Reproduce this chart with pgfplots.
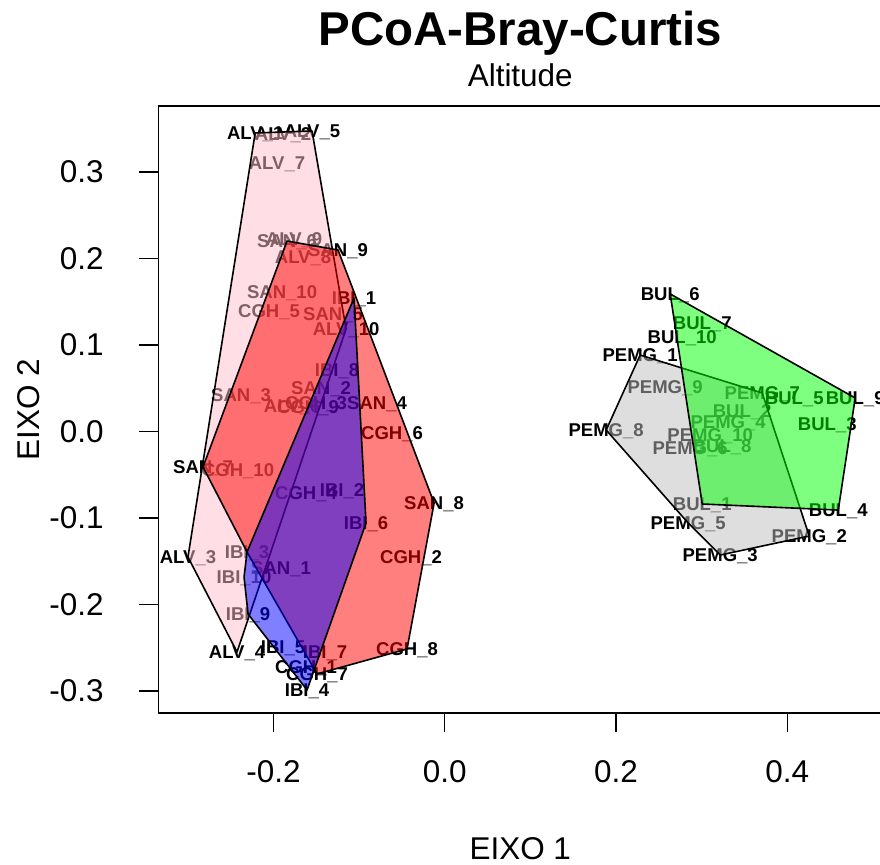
\documentclass[border=0pt]{standalone}
\usepackage{fontspec}
\setmainfont{Liberation Sans}
\usepackage{pgfplots}
\usepackage{pgfplotstable}
\pgfplotsset{compat=1.18}

\definecolor{hpink}{HTML}{FFC0CB}
\definecolor{hred}{HTML}{FF0000}
\definecolor{hblue}{HTML}{0000FF}
\definecolor{hgray}{HTML}{BEBEBE}
\definecolor{hgreen}{HTML}{00FF00}

% site scores (axis 1, axis 2)
\pgfplotstableread{
x y lab
-0.2215 0.3451 ALV\_1
-0.1889 0.3439 ALV\_2
-0.3000 -0.1451 ALV\_3
-0.2427 -0.2549 ALV\_4
-0.1551 0.3474 ALV\_5
-0.1784 0.0295 ALV\_6
-0.1960 0.3104 ALV\_7
-0.1656 0.2017 ALV\_8
-0.1760 0.2225 ALV\_9
-0.1153 0.1185 ALV\_10
-0.1913 -0.1578 SAN\_1
-0.1445 0.0503 SAN\_2
-0.2380 0.0422 SAN\_3
-0.0791 0.0329 SAN\_4
-0.1305 0.1358 SAN\_5
-0.1843 0.2202 SAN\_6
-0.2824 -0.0410 SAN\_7
-0.0125 -0.0827 SAN\_8
-0.1247 0.2098 SAN\_9
-0.1901 0.1613 SAN\_10
-0.1621 -0.2723 CGH\_1
-0.0394 -0.1451 CGH\_2
-0.1504 0.0329 CGH\_3
-0.1621 -0.0711 CGH\_4
-0.2053 0.1393 CGH\_5
-0.0616 -0.0017 CGH\_6
-0.1492 -0.2803 CGH\_7
-0.0441 -0.2514 CGH\_8
-0.1597 0.0283 CGH\_9
-0.2415 -0.0445 CGH\_10
-0.1060 0.1543 IBI\_1
-0.1200 -0.0676 IBI\_2
-0.2310 -0.1393 IBI\_3
-0.1609 -0.2988 IBI\_4
-0.1889 -0.2491 IBI\_5
-0.0920 -0.1058 IBI\_6
-0.1399 -0.2549 IBI\_7
-0.1258 0.0711 IBI\_8
-0.2298 -0.2110 IBI\_9
-0.2345 -0.1682 IBI\_10
0.3007 -0.0838 BUL\_1
0.3474 0.0237 BUL\_2
0.4467 0.0087 BUL\_3
0.4596 -0.0908 BUL\_4
0.4082 0.0387 BUL\_5
0.2633 0.1590 BUL\_6
0.3007 0.1254 BUL\_7
0.3240 -0.0168 BUL\_8
0.4794 0.0387 BUL\_9
0.2773 0.1092 BUL\_10
0.2282 0.0884 PEMG\_1
0.4257 -0.1208 PEMG\_2
0.3217 -0.1428 PEMG\_3
0.3310 0.0110 PEMG\_4
0.2843 -0.1058 PEMG\_5
0.2866 -0.0191 PEMG\_6
0.3708 0.0445 PEMG\_7
0.1885 0.0017 PEMG\_8
0.2574 0.0514 PEMG\_9
0.3100 -0.0040 PEMG\_10
}\sites

\begin{document}
\begin{tikzpicture}
\begin{axis}[
  name=ax,
  scale only axis,
  width=543pt, height=455.25pt,
  xmin=-0.3347, xmax=0.511,
  ymin=-0.3254, ymax=0.3763,
  clip=false,
  clip marker paths=true,
  axis line style={line width=1pt},
  xtick={-0.2,0,0.2,0.4},
  ytick={-0.3,-0.2,-0.1,0,0.1,0.2,0.3},
  xtick pos=lower, ytick pos=left,
  tick align=outside,
  major tick length=14.25pt,
  tick style={line width=0.9pt, black},
  ticklabel style={font=\fontsize{23.6}{28}\selectfont, inner sep=0pt},
  xticklabel style={anchor=base, yshift=-38.25pt},
  yticklabel style={anchor=east, xshift=-26.5pt},
  /pgf/number format/fixed,
  /pgf/number format/fixed zerofill,
  /pgf/number format/precision=1,
  /pgf/number format/assume math mode=true,
]
% labels first, the hulls are laid over them
\addplot[draw=none, mark=none, nodes near coords, point meta=explicit symbolic,
  nodes near coords align={anchor=base},
  every node near coord/.append style={font=\fontsize{13.9}{16}\selectfont\bfseries,
    inner sep=0pt, yshift=-5pt}]
  table[x=x, y=y, meta=lab] {\sites};

\addplot[draw=black, line width=1.2pt, line join=round, fill=hpink, fill opacity=0.5]
  coordinates {(-0.2215,0.3451) (-0.1551,0.3474) (-0.1153,0.1185) (-0.2427,-0.2549) (-0.3000,-0.1451)} -- cycle;
\addplot[draw=black, line width=1.2pt, line join=round, fill=hgray, fill opacity=0.5]
  coordinates {(0.2282,0.0884) (0.3708,0.0445) (0.4257,-0.1208) (0.3217,-0.1428) (0.2843,-0.1058) (0.1885,0.0017)} -- cycle;
\addplot[draw=black, line width=1.2pt, line join=round, fill=hgreen, fill opacity=0.5]
  coordinates {(0.2633,0.1590) (0.4794,0.0387) (0.4596,-0.0908) (0.3007,-0.0838)} -- cycle;
\addplot[draw=black, line width=1.2pt, line join=round, fill=hred, fill opacity=0.5]
  coordinates {(-0.1843,0.2202) (-0.1247,0.2098) (-0.0125,-0.0827) (-0.0441,-0.2514) (-0.1492,-0.2803) (-0.2310,-0.1393) (-0.2824,-0.0410)} -- cycle;
\addplot[draw=black, line width=1.2pt, line join=round, fill=hblue, fill opacity=0.5]
  coordinates {(-0.1060,0.1543) (-0.0920,-0.1058) (-0.1609,-0.2988) (-0.2298,-0.2110) (-0.2345,-0.1682) (-0.2310,-0.1393)} -- cycle;

\node[anchor=base, font=\fontsize{35.6}{40}\selectfont\bfseries]
  at ([yshift=45pt]axis description cs:0.5,1) {PCoA-Bray-Curtis};
\node[anchor=base, font=\fontsize{23.6}{28}\selectfont]
  at ([yshift=14.25pt]axis description cs:0.5,1) {Altitude};
\node[anchor=base, font=\fontsize{23.6}{28}\selectfont]
  at ([yshift=-110.25pt]axis description cs:0.5,0) {EIXO 1};
\node[anchor=base, rotate=90, font=\fontsize{23.6}{28}\selectfont]
  at ([xshift=-88.7pt]axis description cs:0,0.5) {EIXO 2};
\end{axis}
\pgfresetboundingbox
\useasboundingbox ([shift={(-118.7pt,-114pt)}]ax.south west) rectangle ([shift={(-1.7pt,79.5pt)}]ax.north east);
\end{tikzpicture}
\end{document}
